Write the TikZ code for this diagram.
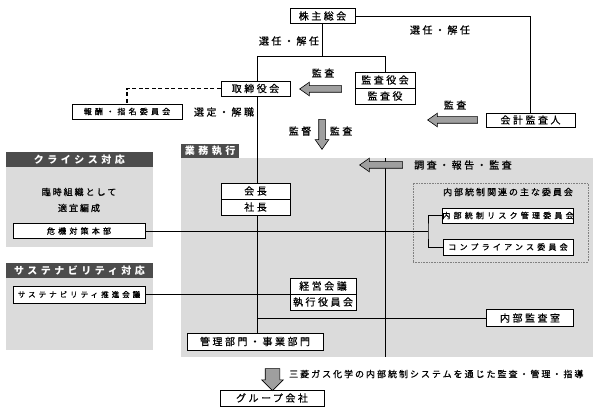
\documentclass[tikz,border=0pt]{standalone}
\usepackage{fontspec}
\setmainfont{Noto Sans CJK JP}[LetterSpace=25,FakeBold=0.6]
\newfontfamily\smallfont{Noto Sans CJK JP}[LetterSpace=40,FakeBold=1.2]
\newfontfamily\notefont{Noto Sans CJK JP}[LetterSpace=22,FakeBold=0.8]
\newfontfamily\headfont{Noto Sans CJK JP}[LetterSpace=35]
\usetikzlibrary{shapes.arrows}
\pgfdeclarelayer{bg}
\pgfdeclarelayer{wires}
\pgfsetlayers{bg,wires,main}
\colorlet{panel}{gray!28}
\colorlet{tab}{black!70}
\colorlet{fat}{gray!75}
\tikzset{
  box/.style={draw,fill=white,line width=0.8pt,inner sep=0pt,minimum height=15pt,font=\fontsize{10}{12}\selectfont},
  sbox/.style={box,font=\smallfont\fontsize{8}{10}\selectfont},
  lbl/.style={inner sep=0pt,font=\fontsize{10}{12}\selectfont},
  note/.style={inner sep=0pt,font=\notefont\fontsize{9}{11}\selectfont},
  head/.style={fill=tab,text=white,inner sep=0pt,font=\headfont\bfseries\fontsize{10}{12}\selectfont},
  panelbox/.style={fill=panel,inner sep=0pt},
  fatarr/.style={single arrow,draw,fill=fat,line width=0.6pt,inner xsep=0pt,inner ysep=3pt,
    single arrow head extend=3.5pt,single arrow tip angle=70}
}

\begin{document}
\begin{tikzpicture}[x=1pt,y=-1pt,line width=0.7pt]
  \useasboundingbox (0,0) rectangle (600,414);
  % shaded areas
  \begin{pgfonlayer}{bg}
    \node[panelbox,minimum width=412pt,minimum height=199pt] (exec) at (387,257.5) {};
    \node[panelbox,minimum width=147pt,minimum height=80pt] (crisisp) at (79.5,207) {};
    \node[panelbox,minimum width=147pt,minimum height=72pt] (susp) at (79.5,314) {};
    \node[draw=gray,densely dotted,line width=0.6pt,minimum width=175pt,minimum height=79pt] (icbox) at (500.5,222.5) {};
  \end{pgfonlayer}
  \node[head,minimum width=58pt,minimum height=14pt] (exectab) at (210,151) {業務執行};
  \node[head,minimum width=147pt,minimum height=15pt] (crisish) at (79.5,159.5) {クライシス対応};
  \node[head,minimum width=147pt,minimum height=15pt] (sush) at (79.5,270.5) {サステナビリティ対応};

  % boxes
  \node[box,minimum width=65pt] (sh) at (322.5,16) {株主総会};
  \node[box,minimum width=69pt] (bd) at (255.5,88.5) {取締役会};
  \node[sbox,minimum width=110pt] (nom) at (127,111.5) {報酬・指名委員会};
  \node[box,minimum width=60pt,minimum height=16pt] (kan1) at (385,80) {監査役会};
  \node[box,minimum width=60pt,minimum height=16pt] (kan2) at (385,96) {監査役};
  \node[box,minimum width=89pt,minimum height=14pt] (ca) at (530.5,120) {会計監査人};
  \node[box,minimum width=69pt,minimum height=16pt] (ceo1) at (255.5,191) {会長};
  \node[box,minimum width=69pt,minimum height=16pt] (ceo2) at (255.5,207) {社長};
  \node[box,minimum width=66pt,minimum height=16pt] (mgmt1) at (323,286) {経営会議};
  \node[box,minimum width=66pt,minimum height=16pt] (mgmt2) at (323,302) {執行役員会};
  \node[box,minimum width=136pt,minimum height=17pt] (div) at (255,341.5) {管理部門・事業部門};
  \node[box,minimum width=87pt,minimum height=17pt] (ia) at (530,318) {内部監査室};
  \node[sbox,minimum width=130pt] (risk) at (508,215.5) {内部統制リスク管理委員会};
  \node[sbox,minimum width=130pt,minimum height=16pt] (comp) at (508,247) {コンプライアンス委員会};
  \node[sbox,minimum width=132pt] (crisis) at (79,231) {危機対策本部};
  \node[sbox,minimum width=132pt,minimum height=17pt,font=\smallfont\fontsize{7.5}{9}\selectfont] (sus) at (79,294.5) {サステナビリティ推進会議};
  \node[box,minimum width=104pt,minimum height=16pt] (grp) at (272,398) {グループ会社};

  % labels
  \node[lbl] (l1) at (440,30) {選任・解任};
  \node[lbl] (l2) at (289,41) {選任・解任};
  \node[lbl] (l3) at (224,112) {選定・解職};
  \node[lbl] (l4) at (323,73) {監査};
  \node[lbl] (l5) at (455,105) {監査};
  \node[lbl] (l6) at (300,131) {監督};
  \node[lbl] (l7) at (341,131) {監査};
  \node[lbl,anchor=west] (l8) at (414,165) {調査・報告・監査};
  \node[note] (ictitle) at (508,192) {内部統制関連の主な委員会};
  \node[note] (c1) at (79,192) {臨時組織として};
  \node[note] (c2) at (79,208) {適宜編成};
  \node[note,anchor=west] (grpnote) at (289,374) {三菱ガス化学の内部統制システムを通じた監査・管理・指導};

  % fat arrows
  \node[fatarr,rotate=180,minimum height=42pt] (a1) at (323,89) {};
  \node[fatarr,rotate=-90,minimum height=30pt] (a2) at (322,132) {};
  \node[fatarr,rotate=180,minimum height=50pt] (a3) at (455,120) {};
  \node[fatarr,rotate=180,minimum height=43pt] (a4) at (383.5,165) {};
  \node[fatarr,rotate=-90,minimum height=22pt,inner ysep=7pt,single arrow tip angle=90] (a5) at (272.5,376) {};

  % connectors
  \begin{pgfonlayer}{wires}
    \coordinate (top) at (257,56);
    \coordinate (br) at (428,231);
    \draw (sh.east) -| (ca.north);
    \draw (sh.south) -- (sh.south |- top);
    \draw (top) -| (kan1.north);
    \draw (top) -- (top |- div.north);
    \draw[dash pattern=on 4pt off 2.5pt,line width=1.1pt] (bd.west) -| (nom.north);
    \draw (exec.north -| kan1.north) -- (exec.south -| kan1.north);
    \draw (crisis.east) -- (br);
    \draw (risk.west) -| (br) |- (comp.west);
    \draw (sus.east) -- (sus.east -| mgmt1.west);
    \draw (top |- ia.west) -- (ia.west);
  \end{pgfonlayer}
\end{tikzpicture}
\end{document}
